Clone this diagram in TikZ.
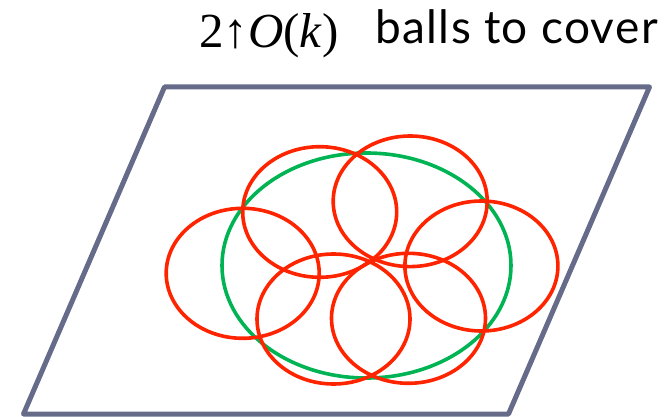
\documentclass[tikz,border=0pt]{standalone}
\usepackage{fontspec}
\setmainfont{Lato}
\newfontfamily\mathlike{Liberation Serif}
\definecolor{framegray}{HTML}{666B8A}
\definecolor{ballred}{HTML}{FF2400}
\definecolor{setgreen}{HTML}{00B454}
\begin{document}
\begin{tikzpicture}[x=1pt,y=-1pt,
  frame/.style={draw=framegray,line width=5pt,line join=round},
  ball/.style={draw=ballred,line width=3.6pt},
  region/.style={draw=setgreen,line width=3.6pt}]
\useasboundingbox (0,0) rectangle (667,417);
% plane
\draw[frame] (164.5,87) -- (649.5,87) -- (508.5,414) -- (23.5,414) -- cycle;
% green set
\draw[region] (366.5,265.5) ellipse [x radius=144.5, y radius=112.5];
% red balls
\draw[ball] (319.7,212) ellipse [x radius=77, y radius=65.3];
\draw[ball] (410.2,201.3) ellipse [x radius=77, y radius=65.3];
\draw[ball] (242.7,273.3) ellipse [x radius=76.5, y radius=65];
\draw[ball] (481.4,266) ellipse [x radius=76.5, y radius=65];
\draw[ball] (333.5,319) ellipse [x radius=76.5, y radius=65];
\draw[ball] (408.5,318.3) ellipse [x radius=77, y radius=65];
% title
\node[anchor=base west,inner sep=0pt,font=\fontsize{49}{52}\selectfont\mathlike] (math) at (199,47.7) {2↑\textit{O}(\textit{k})};
\node[anchor=base east,inner sep=0pt,font=\fontsize{46}{50}\selectfont\addfontfeature{LetterSpace=3}] (title) at (658,43.5) {balls to cover};
\end{tikzpicture}
\end{document}
